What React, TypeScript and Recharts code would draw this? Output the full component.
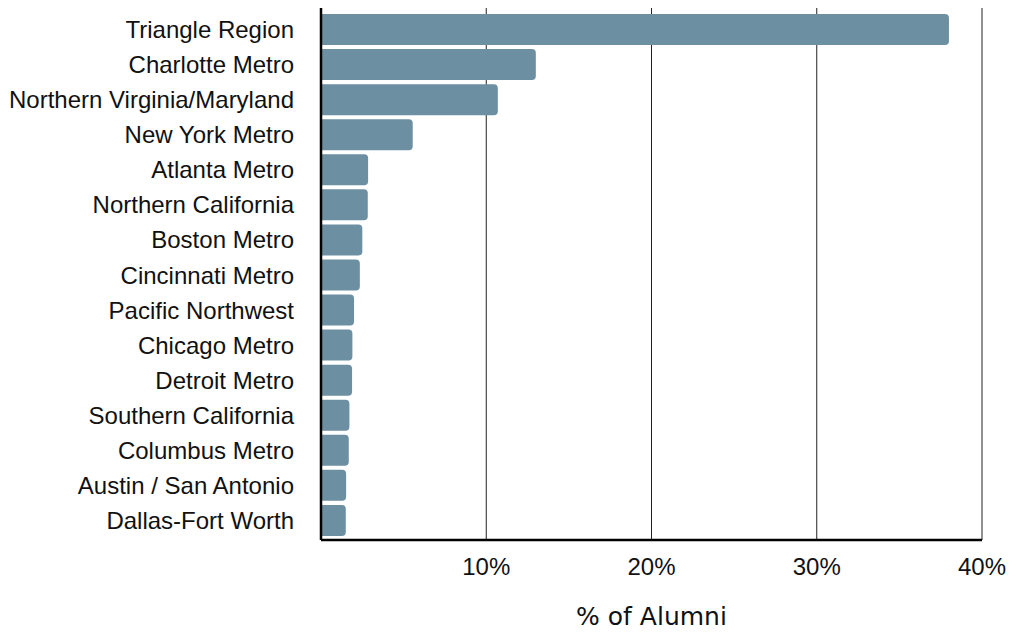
import { BarChart, Bar, XAxis, YAxis, CartesianGrid, Label } from "recharts"

const regions = [
  "Triangle Region",
  "Charlotte Metro",
  "Northern Virginia/Maryland",
  "New York Metro",
  "Atlanta Metro",
  "Northern California",
  "Boston Metro",
  "Cincinnati Metro",
  "Pacific Northwest",
  "Chicago Metro",
  "Detroit Metro",
  "Southern California",
  "Columbus Metro",
  "Austin / San Antonio",
  "Dallas-Fort Worth",
]

const alumniPct = [38.0, 13.0, 10.7, 5.55, 2.85, 2.83, 2.5, 2.35, 2.0, 1.9, 1.88, 1.72, 1.68, 1.52, 1.5]

const xTicks = [10, 20, 30, 40]

const data = regions.map((name, i) => ({ name, pct: alumniPct[i] }))

const font = "'Liberation Sans', Arial, Helvetica, sans-serif"

export default function App() {
  return (
    <div style={{ position: "absolute", left: 0, top: 0 }}>
      <BarChart
        width={1014}
        height={633}
        data={data}
        layout="vertical"
        margin={{ top: 8, right: 32, left: 0, bottom: 0 }}
      >
        <CartesianGrid horizontal={false} vertical={true} stroke="#222" strokeWidth={1} />
        <XAxis
          type="number"
          domain={[0, 40]}
          ticks={xTicks}
          tickFormatter={(v) => `${v}%`}
          height={93}
          tickLine={false}
          tickSize={0}
          tickMargin={18}
          axisLine={{ stroke: "#000", strokeWidth: 2.5 }}
          tick={{ fill: "#111", fontSize: 24, fontFamily: font }}
        >
          <Label
            value="% of Alumni"
            position="insideBottom"
            offset={8}
            style={{ fill: "#111", fontSize: 25, fontFamily: "'DejaVu Sans', Verdana, sans-serif" }}
          />
        </XAxis>
        <YAxis
          type="category"
          dataKey="name"
          width={321}
          interval={0}
          padding={{ top: 4, bottom: 2 }}
          tickLine={false}
          tickSize={0}
          tickMargin={27}
          axisLine={{ stroke: "#000", strokeWidth: 2.5 }}
          tick={{ fill: "#111", fontSize: 24, fontFamily: font }}
        />
        <Bar dataKey="pct" fill="#6d8fa2" barSize={31} radius={[0, 4, 4, 0]} isAnimationActive={false} />
      </BarChart>
    </div>
  )
}
